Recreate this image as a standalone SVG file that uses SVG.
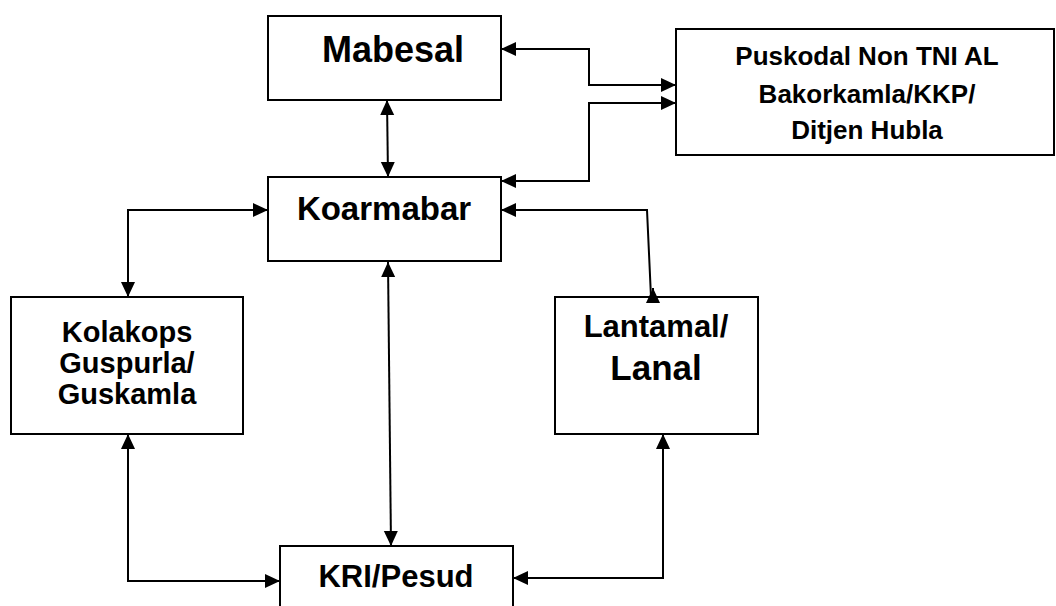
<svg xmlns="http://www.w3.org/2000/svg" width="1056" height="606" viewBox="0 0 1056 606">
<style>
  .box { fill: #ffffff; stroke: #000000; stroke-width: 2; }
  .t { font-family: "Liberation Sans", Arial, sans-serif; font-weight: bold; fill: #000000; text-anchor: middle; }
  .c { fill: none; stroke: #000000; stroke-width: 2; }
</style>
<defs>
  <marker id="ah" markerUnits="userSpaceOnUse" markerWidth="16" markerHeight="15" refX="15" refY="7" orient="auto-start-reverse" viewBox="0 0 16 15">
    <path d="M0,0 L15,7 L0,14 z" fill="#000000"/>
  </marker>
</defs>
<rect width="1056" height="606" fill="#ffffff"/>

<g id="mabesal">
  <rect class="box" x="268" y="16" width="233" height="84"/>
  <text class="t" x="393" y="62" font-size="36">Mabesal</text>
</g>
<g id="puskodal">
  <rect class="box" x="676" y="29" width="378" height="126"/>
  <text class="t" x="867" y="65" font-size="26">Puskodal Non TNI AL</text>
  <text class="t" x="867" y="103" font-size="26">Bakorkamla/KKP/</text>
  <text class="t" x="867" y="139" font-size="26">Ditjen Hubla</text>
</g>
<g id="koarmabar">
  <rect class="box" x="268" y="177" width="233" height="84"/>
  <text class="t" x="384" y="220" font-size="33">Koarmabar</text>
</g>
<g id="kolakops">
  <rect class="box" x="11" y="297" width="232" height="137"/>
  <text class="t" x="127" y="342" font-size="29">Kolakops</text>
  <text class="t" x="127" y="373" font-size="29">Guspurla/</text>
  <text class="t" x="127" y="404" font-size="29">Guskamla</text>
</g>
<g id="lantamal">
  <rect class="box" x="555" y="297" width="203" height="137"/>
  <text class="t" x="656" y="337" font-size="31">Lantamal/</text>
  <text class="t" x="656" y="380" font-size="35">Lanal</text>
</g>
<g id="kri">
  <rect class="box" x="280" y="546" width="233" height="70"/>
  <text class="t" x="396" y="587" font-size="31">KRI/Pesud</text>
</g>

<g id="connectors">
  <path class="c" d="M387,100 L388,177" marker-start="url(#ah)" marker-end="url(#ah)"/>
  <path class="c" d="M501,49 H589 V85 H676" marker-start="url(#ah)" marker-end="url(#ah)"/>
  <path class="c" d="M501,181 H589 V103 H676" marker-start="url(#ah)" marker-end="url(#ah)"/>
  <path class="c" d="M268,210 H128 V297" marker-start="url(#ah)" marker-end="url(#ah)"/>
  <path class="c" d="M501,210 H647 L651,297" marker-start="url(#ah)"/>
  <path class="c" d="M653,297 L653,288" marker-end="url(#ah)"/>
  <path class="c" d="M388,262 L391,546" marker-start="url(#ah)" marker-end="url(#ah)"/>
  <path class="c" d="M128,434 V581 H280" marker-start="url(#ah)" marker-end="url(#ah)"/>
  <path class="c" d="M663,434 V578 H513" marker-start="url(#ah)" marker-end="url(#ah)"/>
</g>
</svg>
